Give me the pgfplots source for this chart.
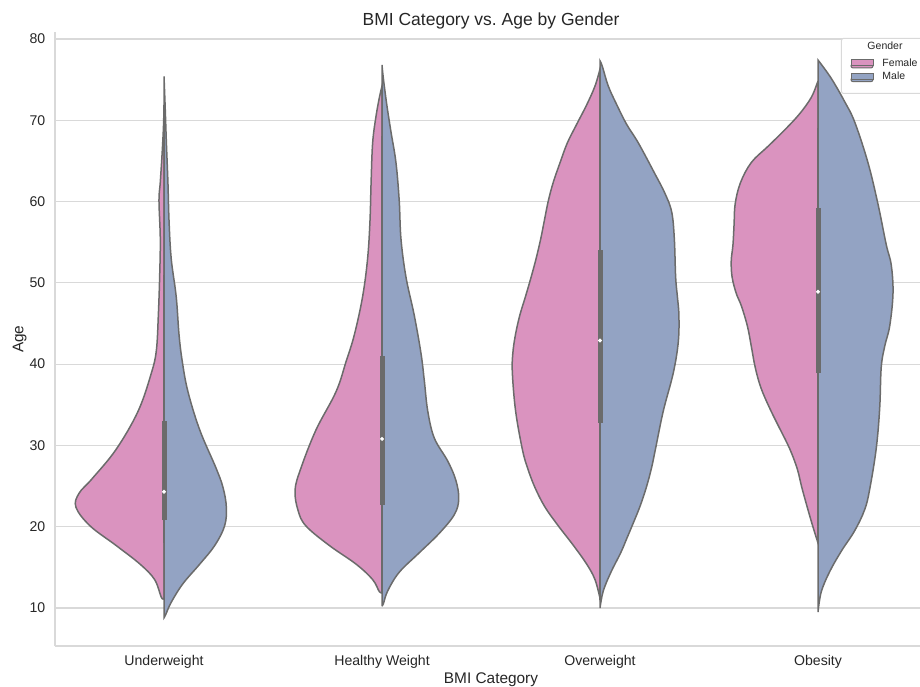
\documentclass[border=0pt]{standalone}
\usepackage{fontspec}
\setmainfont{Liberation Sans}
\usepackage{pgfplots}
\usepackage{pgfplotstable}
\pgfplotsset{compat=1.18}

\definecolor{fem}{HTML}{DA93BF}
\definecolor{mal}{HTML}{93A3C3}
\definecolor{edge}{HTML}{6B6B6B}
\definecolor{gridc}{HTML}{D9D9D9}
\definecolor{txt}{HTML}{262626}

% Half-violin outlines: age and half-width (in category units)
\pgfplotstableread{
age w
11.2 0
11.3 0.012
13.5 0.043
15.4 0.110
17.7 0.220
20.1 0.339
22.4 0.404
24.1 0.390
25.9 0.330
29.5 0.220
34.2 0.119
38.9 0.058
41.7 0.035
46.0 0.026
50.7 0.020
55.4 0.017
60.1 0.023
62.4 0.017
66.2 0.008
69.5 0.002
71.9 0
}\underF
\pgfplotstableread{
age w
8.8 0
9.2 0.008
10.7 0.033
13.0 0.087
15.4 0.164
17.7 0.233
20.1 0.278
22.4 0.286
24.8 0.271
27.2 0.239
31.9 0.164
36.6 0.110
40.3 0.084
43.6 0.069
48.3 0.056
53.0 0.033
57.7 0.023
62.4 0.018
67.2 0.011
71.9 0.005
75.4 0
}\underM
\pgfplotstableread{
age w
11.9 0
12.0 0.012
13.5 0.043
15.4 0.119
17.7 0.242
20.1 0.349
22.0 0.385
24.5 0.399
27.2 0.372
31.9 0.303
36.6 0.211
40.3 0.165
43.6 0.127
48.3 0.089
53.0 0.066
57.7 0.055
62.4 0.050
67.2 0.043
70.4 0.028
72.8 0.012
74.2 0
}\healthyF
\pgfplotstableread{
age w
10.3 0
10.5 0.006
12.1 0.026
14.4 0.079
16.8 0.171
19.2 0.263
21.5 0.332
23.4 0.352
25.7 0.339
28.1 0.301
30.9 0.240
34.2 0.210
38.0 0.194
41.3 0.179
46.0 0.148
50.7 0.110
55.4 0.087
60.1 0.079
64.8 0.064
68.6 0.041
71.9 0.022
75.2 0.006
76.8 0
}\healthyM
\pgfplotstableread{
age w
11.2 0
13.5 0.023
15.4 0.061
17.7 0.122
20.1 0.191
22.4 0.252
24.8 0.298
27.2 0.332
29.5 0.356
34.2 0.387
38.9 0.402
41.3 0.400
43.6 0.388
46.0 0.368
48.3 0.342
50.7 0.316
53.0 0.293
55.4 0.272
57.7 0.255
60.1 0.237
62.4 0.214
64.8 0.183
67.2 0.150
69.5 0.107
71.9 0.061
74.2 0.023
76.3 0
}\overF
\pgfplotstableread{
age w
10.0 0
12.1 0.015
14.4 0.050
16.8 0.095
18.5 0.122
20.1 0.147
22.4 0.182
24.8 0.212
27.2 0.236
29.5 0.254
34.2 0.290
38.9 0.336
42.7 0.359
46.0 0.362
48.3 0.355
50.7 0.347
55.4 0.341
58.7 0.329
61.0 0.298
63.4 0.252
67.2 0.176
69.5 0.122
71.9 0.077
74.2 0.038
76.6 0.011
77.3 0
}\overM
\pgfplotstableread{
age w
18.0 0
20.6 0.030
24.6 0.072
27.1 0.095
29.6 0.130
32.1 0.176
34.6 0.222
37.1 0.262
39.6 0.288
42.2 0.306
44.7 0.324
47.2 0.352
48.7 0.375
50.7 0.394
52.7 0.398
54.7 0.390
57.2 0.385
59.7 0.380
62.3 0.356
64.8 0.306
66.8 0.229
68.8 0.153
70.8 0.084
72.8 0.031
74.6 0.003
74.8 0
}\obeseF
\pgfplotstableread{
age w
9.5 0
12.0 0.015
14.5 0.054
17.0 0.107
19.5 0.168
22.1 0.214
24.6 0.237
29.6 0.267
34.6 0.283
39.6 0.290
42.2 0.306
44.7 0.329
48.7 0.344
52.2 0.336
54.7 0.313
59.7 0.275
64.8 0.229
69.8 0.168
72.3 0.122
74.8 0.069
76.3 0.031
77.4 0
}\obeseM

% Inner box: quartiles, median and whisker ends per category
\pgfplotstableread{
cat q1 med q3 lo hi
0 20.8 24.3 33.0 18 51
1 22.7 30.8 41.0 12 68
2 32.8 42.9 54.0 11 76
3 38.9 48.9 59.2 18 69
}\boxstats

\begin{document}
\begin{tikzpicture}
\useasboundingbox (-27.5pt,-20pt) rectangle (432.5pt,323pt);
\begin{axis}[
  at={(0,0)}, anchor=south west,
  x=109pt, y=4.065pt,
  xmin=-0.5, xmax=3.5, ymin=5.33, ymax=80.8,
  axis x line*=bottom, axis y line*=left,
  axis line style={draw=gridc, line width=0.6pt},
  major tick length=0pt,
  ymajorgrids, grid style={draw=gridc, line width=0.6pt},
  xtick={0,1,2,3},
  xticklabels={Underweight,Healthy Weight,Overweight,Obesity},
  ytick={10,20,...,80},
  /pgf/number format/assume math mode=true,
  tick label style={font=\fontsize{7.05}{8}\selectfont, text=txt, inner sep=0pt},
  xticklabel style={anchor=north, yshift=-4.5pt},
  yticklabel style={anchor=east, xshift=-4.65pt},
  every axis title shift=0pt,
  title={BMI Category vs.\ Age by Gender},
  title style={at={(axis description cs:0.5,1)}, anchor=base, yshift=3.25pt,
    inner sep=0pt, font=\fontsize{8.75}{10}\selectfont, text=txt},
  xlabel={BMI Category},
  xlabel style={at={(axis description cs:0.5,0)}, anchor=north, yshift=-13pt,
    inner sep=0pt, font=\fontsize{7.7}{9}\selectfont, text=txt},
  ylabel={Age},
  ylabel style={at={(axis description cs:-0.03635,0.5)}, anchor=base,
    inner sep=0pt, font=\fontsize{7.7}{9}\selectfont, text=txt},
  legend style={at={(axis description cs:1,1)}, anchor=north east, yshift=-2.75pt,
    draw=gridc, line width=0.5pt, fill=white, rounded corners=1pt,
    inner xsep=4.5pt, inner ysep=4.45pt, row sep=1.95pt, column sep=4.5pt,
    font=\fontsize{5.25}{6}\selectfont, text=txt,
    nodes={inner sep=0pt, text height=2.58pt, text depth=2.32pt}},
  legend cell align=left,
  legend image code/.code={
    \path (0pt,-1pt) rectangle (11pt,1pt);
    \draw[#1, overlay, line width=0.4pt, sharp corners] (0pt,0.25pt) rectangle (11pt,3.25pt);},
  violin/.style={draw=edge, line width=0.75pt, smooth, tension=0.6, forget plot},
]
% Female halves (left of centre)
\addplot[violin, fill=fem] table[x expr=0-\thisrow{w}, y=age] {\underF} -- cycle;
\addplot[violin, fill=fem] table[x expr=1-\thisrow{w}, y=age] {\healthyF} -- cycle;
\addplot[violin, fill=fem] table[x expr=2-\thisrow{w}, y=age] {\overF} -- cycle;
\addplot[violin, fill=fem] table[x expr=3-\thisrow{w}, y=age] {\obeseF} -- cycle;
% Male halves (right of centre)
\addplot[violin, fill=mal] table[x expr=0+\thisrow{w}, y=age] {\underM} -- cycle;
\addplot[violin, fill=mal] table[x expr=1+\thisrow{w}, y=age] {\healthyM} -- cycle;
\addplot[violin, fill=mal] table[x expr=2+\thisrow{w}, y=age] {\overM} -- cycle;
\addplot[violin, fill=mal] table[x expr=3+\thisrow{w}, y=age] {\obeseM} -- cycle;
% Whiskers, interquartile boxes and medians
\addplot[edge, line width=0.75pt, forget plot, unbounded coords=jump] coordinates {
  (0,18) (0,51) (nan,nan) (1,12) (1,68) (nan,nan) (2,11) (2,76) (nan,nan) (3,18) (3,69)};
\addplot[edge, line width=2.5pt, forget plot, unbounded coords=jump] coordinates {
  (0,20.8) (0,33.0) (nan,nan) (1,22.7) (1,41.0) (nan,nan) (2,32.8) (2,54.0) (nan,nan) (3,38.9) (3,59.2)};
\addplot[only marks, mark=*, mark size=0.75pt, white, forget plot]
  table[x=cat, y=med] {\boxstats};
% Legend
\addlegendimage{empty legend}
\addlegendentry{\hspace*{-7.5pt}\raisebox{1.3pt}{Gender}}
\addlegendimage{fill=fem, draw=edge}
\addlegendentry{Female}
\addlegendimage{fill=mal, draw=edge}
\addlegendentry{Male}
\end{axis}
\end{tikzpicture}
\end{document}
